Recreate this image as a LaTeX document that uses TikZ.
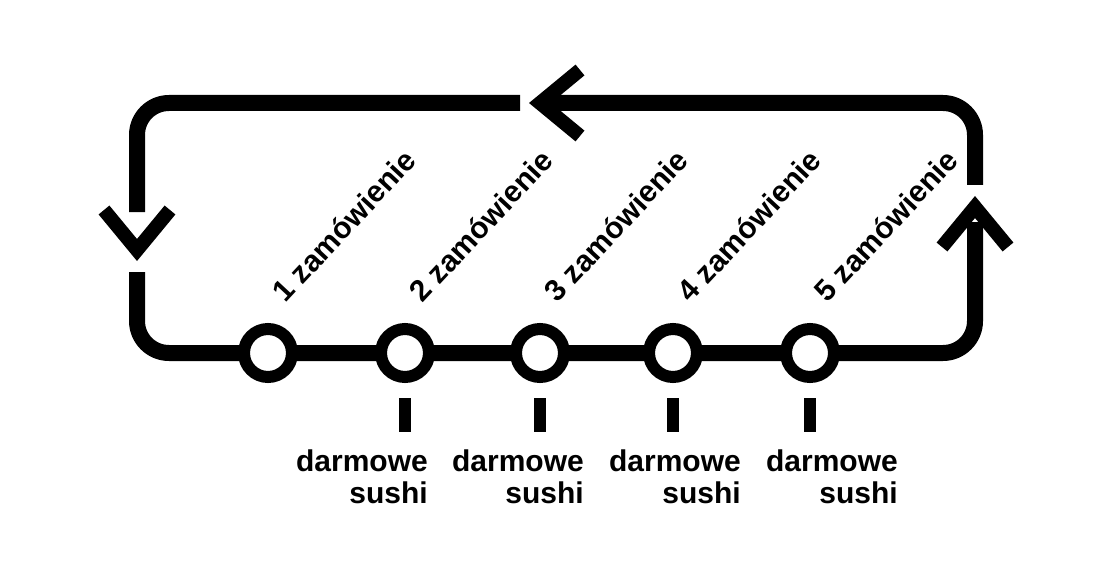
\documentclass[tikz,border=0pt]{standalone}
\usepackage{fontspec}
\setmainfont{Liberation Sans}
\begin{document}
\begin{tikzpicture}[x=1pt,y=-1pt,
  loop/.style={line width=16pt,black},
  chev/.style={line width=14pt,black,line join=miter},
  stop/.style={circle,draw=black,fill=white,line width=12pt,minimum size=48pt,inner sep=0pt},
  tick/.style={line width=12pt,black},
  lab/.style={font=\bfseries\fontsize{30}{32}\selectfont,anchor=south west,rotate=47,inner sep=0pt},
  dlab/.style={font=\bfseries\fontsize{30}{32}\selectfont,align=right,anchor=north east,inner sep=0pt}]
\useasboundingbox (0,0) rectangle (1117,575);
% loop
\coordinate (tl) at (520,103);
\coordinate (tr) at (545,103);
\draw[loop,rounded corners=32pt] (tl) -- (137,103) -- (137,212);
\draw[loop,rounded corners=32pt] (137,272) -- (137,353) -- (975,353) -- (975,222);
\draw[loop,rounded corners=32pt] (975,185) -- (975,103) -- (tr);
% arrows
\draw[chev] (580,70) -- (540,103) -- (580,136);
\draw[chev] (104,210) -- (137,250) -- (170,210);
\draw[chev] (942,247) -- (975,207) -- (1008,247);
% stops
\foreach \x/\n in {268/1,405/2,540/3,673/4,810/5}{
  \node[stop] (s\n) at (\x,353) {};
  \node[lab] (l\n) at (\x+18,304) {\n{} zamówienie};
}
\foreach \x/\r/\n in {405/428/2,540/584/3,673/741/4,810/898/5}{
  \coordinate (ta\n) at (\x,398);
  \coordinate (tb\n) at (\x,432);
  \draw[tick] (ta\n) -- (tb\n);
  \node[dlab] (d\n) at (\r,450) {darmowe\\sushi};
}
\end{tikzpicture}
\end{document}
